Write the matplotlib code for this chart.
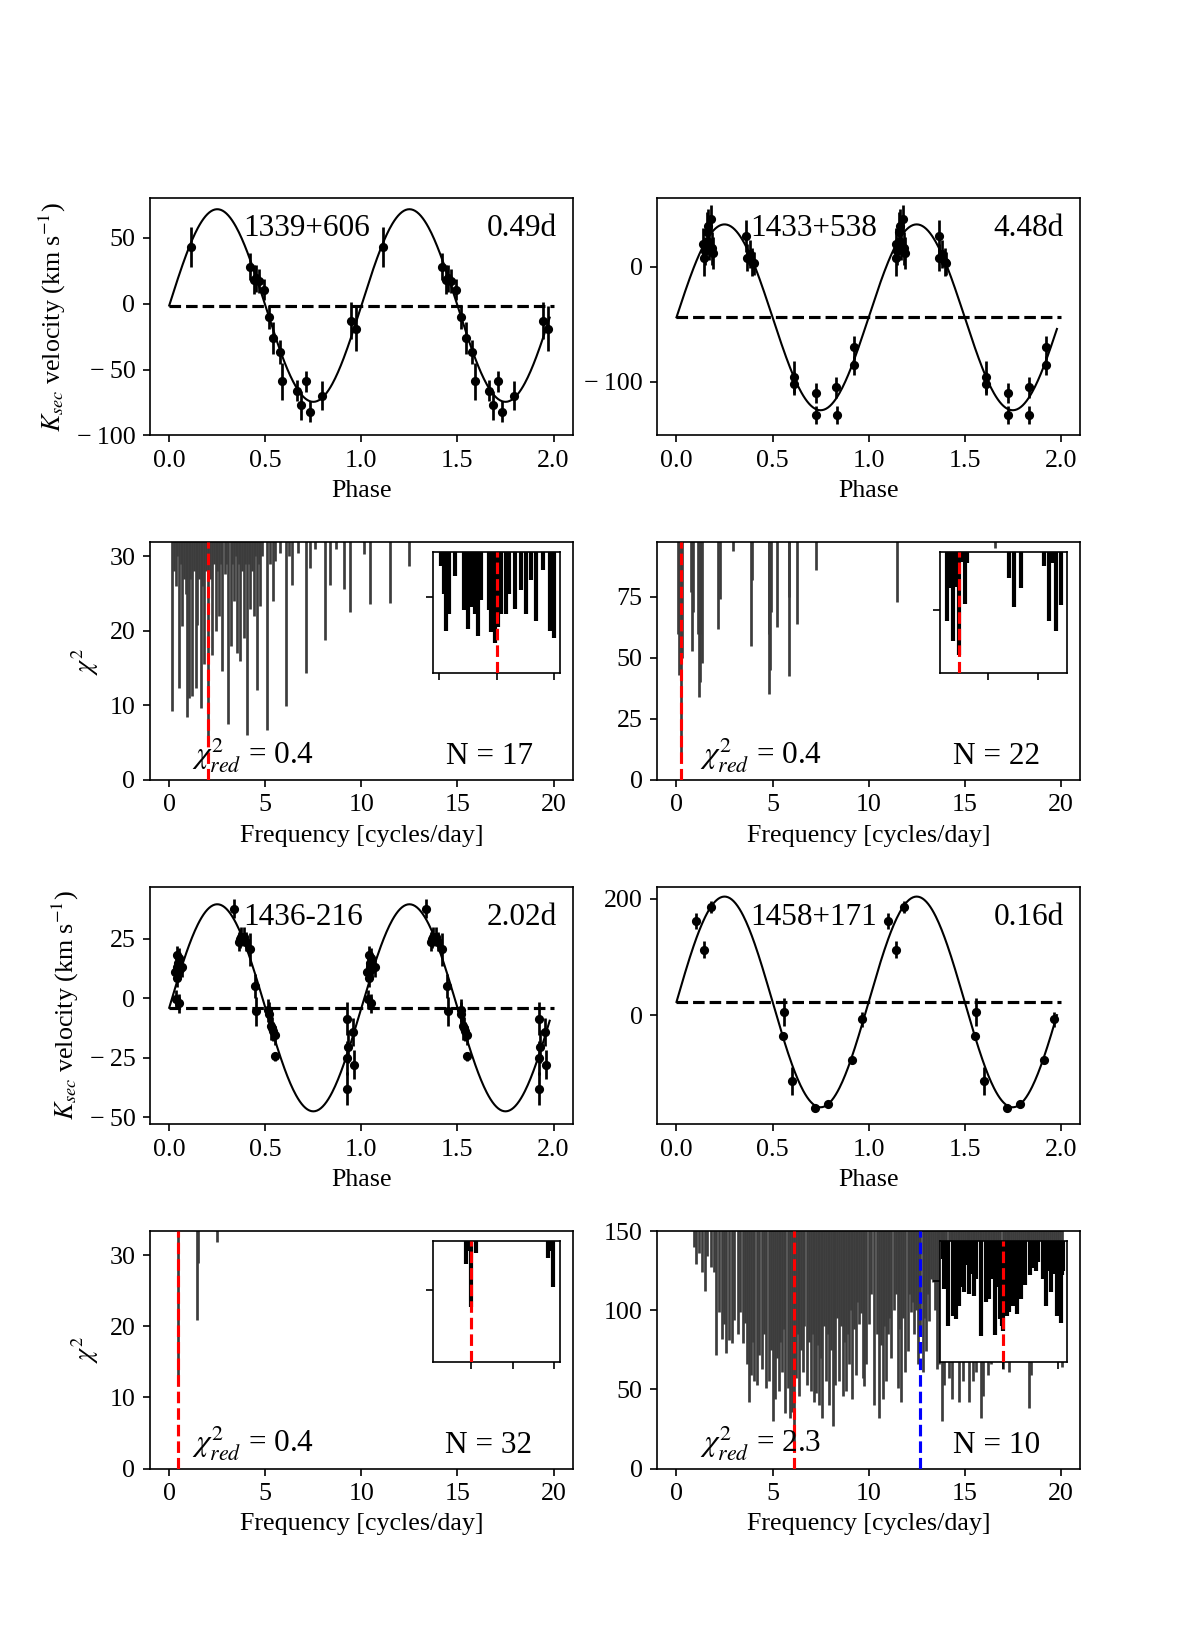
import numpy as np
import matplotlib.pyplot as plt
from matplotlib.ticker import FuncFormatter

plt.rcParams['font.family'] = ['Liberation Serif', 'DejaVu Serif']
plt.rcParams['mathtext.fontset'] = 'stix'
plt.rcParams['font.size'] = 12.5

# ---- radial velocity curves (phase, velocity, error) ----
p1_phase = [0.113, 0.420, 0.440, 0.452, 0.468, 0.492, 0.519, 0.542, 0.576, 0.589, 0.663, 0.686, 0.710, 0.733, 0.793, 0.946, 0.972]
p1_vel = [43, 28, 18, 19, 17, 10.5, -10, -26, -37, -59, -66, -77, -59, -82, -70, -13, -19]
p1_err = [15, 10, 11, 10, 9, 8, 9, 12, 9, 14, 8, 11, 8, 8, 11, 14, 17]

p2_phase = [0.140, 0.145, 0.150, 0.158, 0.165, 0.170, 0.178, 0.185, 0.190, 0.364, 0.366, 0.382, 0.395, 0.402,
            0.613, 0.613, 0.726, 0.726, 0.832, 0.835, 0.922, 0.922]
p2_vel = [20, 8, 14, 30, 36, 22, 42, 16, 12, 27, 8, 11, 4, 3, -96, -102, -110, -129, -105, -129, -70, -86]
p2_err = [14, 16, 12, 18, 14, 16, 12, 14, 14, 14, 12, 12, 12, 10, 14, 10, 9, 8, 9, 8, 10, 8]

p3_phase = [0.038, 0.030, 0.047, 0.056, 0.069, 0.042, 0.035, 0.050, 0.043, 0.052, 0.337, 0.365, 0.368, 0.372,
            0.389, 0.399, 0.420, 0.446, 0.451, 0.516, 0.521, 0.528, 0.533, 0.538, 0.550, 0.550,
            0.927, 0.927, 0.927, 0.932, 0.958, 0.962]
p3_vel = [18.1, 11.2, 14.9, 12.2, 13.1, 8.7, -0.3, -2.1, 13, 17, 37.7, 23.9, 25, 26, 26, 23.9, 20.7, 5.2, -5.5,
          -5.1, -6.5, -11.6, -12.7, -13.8, -15.5, -24.5, -8.6, -25.1, -38, -20.3, -14.1, -27.9]
p3_err = [4, 4, 4, 4, 4, 4, 4, 4, 4, 4, 4, 4, 4, 4, 4, 4, 7, 5, 6, 5, 5, 6, 5, 4, 4, 2, 7, 7, 7, 7, 6, 6]

p4_phase = [0.102, 0.142, 0.182, 0.558, 0.555, 0.601, 0.719, 0.787, 0.913, 0.965]
p4_vel = [162, 113, 186, 5, -36, -113, -159, -153, -76, -7]
p4_err = [13, 14, 10, 24, 6, 24, 5, 5, 5, 13]

names = ['1339+606', '1433+538', '1436-216', '1458+171']
periods = ['0.49d', '4.48d', '2.02d', '0.16d']
gammas = [-1.5, -44, -4, 23]
amps = [73, 81, 43.6, 181]

# ---- chi^2 periodograms: frequency of each dip and its chi^2 ----
pg1_freq = [0.14, 0.26, 0.34, 0.43, 0.52, 0.60, 0.69, 0.78, 0.87, 0.95, 1.03, 1.10, 1.17, 1.27, 1.38, 1.47, 1.55,
            1.64, 1.72, 1.81, 1.90, 2.02, 2.13, 2.24, 2.32, 2.41, 2.50, 2.59, 2.68, 2.76, 2.90, 2.98, 3.07, 3.19,
            3.27, 3.36, 3.45, 3.53, 3.62, 3.70, 3.80, 3.88, 3.96, 4.05, 4.14, 4.22, 4.31, 4.40, 4.48, 4.57, 4.66,
            4.74, 4.84, 5.09, 5.25, 5.40, 5.52, 5.75, 6.07, 6.25, 6.41, 6.70, 7.10, 7.33, 7.60, 8.10, 8.36, 8.70,
            9.10, 9.40, 10.14, 10.43, 11.47, 12.50]
pg1_chi2 = [9.2, 28, 26, 30, 12.3, 29, 20.6, 27, 25, 8.5, 11, 27, 11.2, 28, 12.3, 20.8, 27,
            9.6, 26, 15.5, 28, 5.5, 27, 16.8, 29, 20, 28, 22, 29, 14.6, 27.6, 29, 7.5, 18,
            29, 24, 30, 17, 29, 16, 28, 19, 29, 6, 29, 23, 28, 22, 30, 12, 29,
            23.3, 30, 6.7, 29, 24, 29.4, 30.5, 9.9, 30, 26.2, 30.5, 14.3, 28.5, 31, 18.8, 26.2, 31,
            25.6, 22.6, 30.3, 23.6, 23.8, 28.7]
in1_u = [-0.97, -0.91, -0.87, -0.82, -0.72, -0.56, -0.50, -0.45, -0.37, -0.33, -0.27, -0.13, -0.10, -0.02, 0.02,
         0.08, 0.16, 0.22, 0.31, 0.42, 0.51, 0.60, 0.68, 0.80, 0.92, 0.97, 1.00]
in1_val = [0.885, 0.656, 0.35, 0.49, 0.80, 0.52, 0.363, 0.545, 0.49, 0.307, 0.60, 0.517, 0.335, 0.25, 0.377,
           0.49, 0.49, 0.656, 0.53, 0.684, 0.49, 0.768, 0.433, 0.852, 0.35, 0.377, 0.288]

pg2_freq = [0.10, 0.14, 0.223, 0.30, 0.74, 0.79, 0.86, 1.14, 1.17, 1.20, 1.22, 1.26, 1.31, 2.17, 2.26, 2.93, 3.88,
            3.93, 4.80, 4.83, 4.88, 4.93, 5.24, 5.83, 5.88, 6.26, 7.24, 11.50, 16.60]
pg2_chi2 = [60, 43, 7.6, 50, 77, 52.8, 69, 60, 34, 40, 60, 85, 48, 61.8, 74, 94, 54.9,
            82, 60, 35.4, 45, 68.8, 62.5, 42.4, 75, 64, 86, 73, 95]
in2_u = [-0.81, -0.76, -0.69, -0.625, -0.572, -0.49, -0.45, -0.41, 0.43, 0.53, 0.66, 1.12, 1.22, 1.28, 1.35, 1.45]
in2_val = [0.433, 0.70, 0.265, 0.712, 0.15, 0.92, 0.573, 0.908, 0.78, 0.545, 0.70, 0.88, 0.433, 0.908, 0.35, 0.56]

pg3_freq = [0.46, 1.47, 1.50, 2.50]
pg3_chi2 = [11.6, 20.9, 28.9, 31.8]
in3_u = [-0.12, -0.064, 0.0, 0.12, 1.86, 1.90, 1.96]
in3_val = [0.81, 0.91, 0.45, 0.90, 0.854, 0.91, 0.62]

pg4_freq = [0.92, 1.01, 1.18, 1.35, 1.49, 1.61, 1.79, 1.96, 2.08, 2.22, 2.36, 2.48, 2.60, 2.74, 2.88, 3.00, 3.18,
            3.30, 3.44, 3.55, 3.65, 3.75, 3.87, 3.96, 4.05, 4.17, 4.31, 4.44, 4.55, 4.65, 4.83, 4.92, 5.00, 5.12,
            5.21, 5.31, 5.40, 5.49, 5.58, 5.66, 5.78, 5.90, 6.01, 6.09, 6.22, 6.30, 6.39, 6.47, 6.56, 6.66, 6.77,
            6.88, 7.00, 7.08, 7.17, 7.26, 7.35, 7.43, 7.50, 7.57, 7.67, 7.78, 7.87, 7.95, 8.04, 8.13, 8.20, 8.26,
            8.37, 8.47, 8.56, 8.65, 8.74, 8.82, 8.90, 8.99, 9.06, 9.13, 9.22, 9.34, 9.42, 9.51, 9.60, 9.69, 9.77,
            9.86, 10.0, 10.1, 10.3, 10.42, 10.56, 10.65, 10.73, 10.82, 10.9, 11.0, 11.08, 11.16, 11.3, 11.42,
            11.51, 11.6, 11.68, 11.8, 11.91, 12.03, 12.12, 12.2, 12.3, 12.38, 12.47, 12.55, 12.69, 12.81, 12.9,
            12.99, 13.08, 13.16, 13.25, 13.33, 13.45, 13.54, 13.61, 13.68, 13.75, 13.82, 13.88, 13.94, 14.05,
            14.2, 14.27, 14.34, 14.45, 14.55, 14.63, 14.72, 14.8, 14.9, 15.0, 15.1, 15.16, 15.24, 15.33, 15.42,
            15.5, 15.59, 15.7, 15.77, 15.85, 15.97, 16.05, 16.12, 16.2, 16.28, 16.37, 16.47, 16.55, 16.65,
            16.75, 16.85, 16.98, 17.08, 17.18, 17.25, 17.33, 17.42, 17.52, 17.62, 17.72, 17.82, 17.92, 18.02,
            18.12, 18.22, 18.3, 18.37, 18.45, 18.55, 18.65, 18.75, 18.85, 18.95, 19.05, 19.15, 19.25, 19.35,
            19.45, 19.55, 19.65, 19.75, 19.85, 19.95, 20.07]
pg4_chi2 = [140, 129, 136, 124, 112, 134, 127, 124, 72, 99, 82, 91, 73, 81, 79, 94, 85,
            99, 79, 92, 66, 42, 59, 80, 55, 53, 72, 63, 85, 51, 55, 75, 30, 44,
            70, 49, 80, 61, 88, 35, 51, 32, 36, 16, 57, 85, 46, 75, 61, 90, 53,
            80, 49, 85, 42, 48, 78, 40, 70, 32, 90, 55, 85, 40, 75, 27, 70, 53,
            95, 55, 90, 46, 80, 49, 85, 66, 100, 44, 88, 59, 105, 91, 98, 57, 52,
            66, 91, 110, 40, 85, 32, 78, 44, 90, 55, 85, 95, 70, 100, 110,
            51, 88, 42, 95, 61, 74, 110, 99, 105, 85, 100, 66, 90, 61, 95,
            74, 110, 93, 120, 118, 100, 63, 95, 66, 85, 30, 75, 53, 80,
            57, 85, 44, 90, 80, 95, 42, 88, 55, 90, 80, 92, 42, 88, 55,
            85, 61, 95, 85, 32, 46, 90, 80, 59, 85, 66, 95, 90, 100,
            88, 92, 63, 90, 100, 85, 61, 95, 105, 110, 100, 115, 105, 110,
            100, 95, 90, 38, 59, 90, 100, 110, 95, 105, 100, 110, 95, 100,
            90, 105, 95, 100, 90, 80, 64]
in4_u = [-1.10, -1.08, -1.01, -0.93, -0.87, -0.84, -0.81, -0.76, -0.72, -0.66, -0.63, -0.56, -0.53, -0.50,
         -0.40, -0.32, -0.27, -0.20, -0.15, -0.10, -0.07, -0.03, 0.0, 0.06, 0.11, 0.17, 0.25, 0.30, 0.32, 0.39,
         0.48, 0.52, 0.54, 0.60, 0.63, 0.72, 0.78, 0.83, 0.88, 0.94, 0.99, 1.05, 1.07, 1.10]
in4_val = [0.85, 0.60, 0.294, 0.378, 0.35, 0.70, 0.462, 0.62, 0.574, 0.80, 0.56, 0.72, 0.546, 0.68,
           0.21, 0.49, 0.515, 0.68, 0.22, 0.62, 0.35, 0.294, 0.25, 0.378, 0.406, 0.462, 0.39, 0.66, 0.515, 0.63,
           0.714, 0.80, 0.77, 0.75, 0.826, 0.686, 0.462, 0.75, 0.574, 0.72, 0.378, 0.32, 0.714, 0.75]

best_freq = [2.02, 0.223, 0.46, 6.09]
chi_red = ['0.4', '0.4', '0.4', '2.3']
n_obs = [17, 22, 32, 10]

fig, axes = plt.subplots(4, 2, figsize=(8, 11), dpi=150)
fig.subplots_adjust(hspace=0.45)

# wide minus like the TeX-rendered original
minus_fmt = FuncFormatter(lambda v, pos: ('\u2212\u2009%g' % -v) if v < 0 else '%g' % v)


def phase_panel(ax, ph, v, e, i, ylim, yticks):
    ph = np.asarray(ph)
    for off in (0, 1):
        ax.errorbar(ph + off, v, yerr=e, fmt='o', color='k', ms=3.4, elinewidth=1.3, capsize=0, zorder=3)
    x = np.linspace(0, 1.98, 400)
    ax.plot(x, gammas[i] + amps[i] * np.sin(2 * np.pi * x), color='k', lw=1)
    ax.plot([0, 2], [gammas[i], gammas[i]], 'k--', lw=1.5)
    ax.set_xlim(-0.1, 2.1)
    ax.set_ylim(*ylim)
    ax.set_yticks(yticks)
    ax.yaxis.set_major_formatter(minus_fmt)
    ax.set_xticks([0, 0.5, 1, 1.5, 2])
    ax.set_xlabel('Phase')
    ax.text(0.22, 0.84, names[i], transform=ax.transAxes, fontsize=15, va='baseline')
    ax.text(0.962, 0.84, periods[i], transform=ax.transAxes, fontsize=15, va='baseline', ha='right')


def pgram_panel(ax, f, c, i, ylim, yticks, iu, ival, ibest, ixlim, ixticks, iytick):
    ax.vlines(f, c, 1000, color='#3c3c3c', lw=1.3)
    ax.axvline(best_freq[i], color='red', ls='--', lw=1.5, zorder=3)
    ax.set_xlim(-1, 21)
    ax.set_ylim(*ylim)
    ax.set_yticks(yticks)
    ax.set_xticks([0, 5, 10, 15, 20])
    ax.set_xlabel('Frequency [cycles/day]')
    ax.text(0.10, 0.065, r'$\chi^2_{red}$ = ' + chi_red[i], transform=ax.transAxes, fontsize=15, va='baseline')
    ax.text(0.905, 0.065, 'N = %d' % n_obs[i], transform=ax.transAxes, fontsize=15, va='baseline', ha='right')
    ins = ax.inset_axes([0.67, 0.45, 0.30, 0.51])
    ins.vlines(iu, ival, 10, color='k', lw=2)
    ins.axvline(ibest, color='red', ls='--', lw=1.5, zorder=3)
    ins.set_xlim(*ixlim)
    ins.set_ylim(0, 1)
    ins.set_xticks(ixticks)
    ins.set_yticks([iytick])
    ins.set_xticklabels([])
    ins.set_yticklabels([])
    return ins


phase_panel(axes[0, 0], p1_phase, p1_vel, p1_err, 0, (-100, 80), [-100, -50, 0, 50])
phase_panel(axes[0, 1], p2_phase, p2_vel, p2_err, 1, (-147, 60), [-100, 0])
phase_panel(axes[2, 0], p3_phase, p3_vel, p3_err, 2, (-53, 47), [-50, -25, 0, 25])
phase_panel(axes[2, 1], p4_phase, p4_vel, p4_err, 3, (-187, 221), [0, 200])

pgram_panel(axes[1, 0], pg1_freq, pg1_chi2, 0, (0, 31.9), [0, 10, 20, 30],
            in1_u, in1_val, 0, (-1.1, 1.1), [-1, 0, 1], 0.63)
pgram_panel(axes[1, 1], pg2_freq, pg2_chi2, 1, (0, 97.4), [0, 25, 50, 75],
            in2_u, in2_val, -0.572, (-0.934, 1.58), [0, 1], 0.517)
pgram_panel(axes[3, 0], pg3_freq, pg3_chi2, 2, (0, 33.4), [0, 10, 20, 30],
            in3_u, in3_val, 0, (-0.92, 2.14), [0, 1, 2], 0.594)
pgram_panel(axes[3, 1], pg4_freq, pg4_chi2, 3, (0, 150), [0, 50, 100, 150],
            in4_u, in4_val, 0, (-1.15, 1.17), [0, 1], 0.664)
axes[3, 1].axvline(12.69, color='blue', ls='--', lw=1.5, zorder=3)

for r in (0, 2):
    axes[r, 0].set_ylabel(r'$K_{sec}$ velocity (km s$^{-1}$)')
for r in (1, 3):
    axes[r, 0].set_ylabel(r'$\chi^2$')

fig.savefig('out.png', dpi=150)
